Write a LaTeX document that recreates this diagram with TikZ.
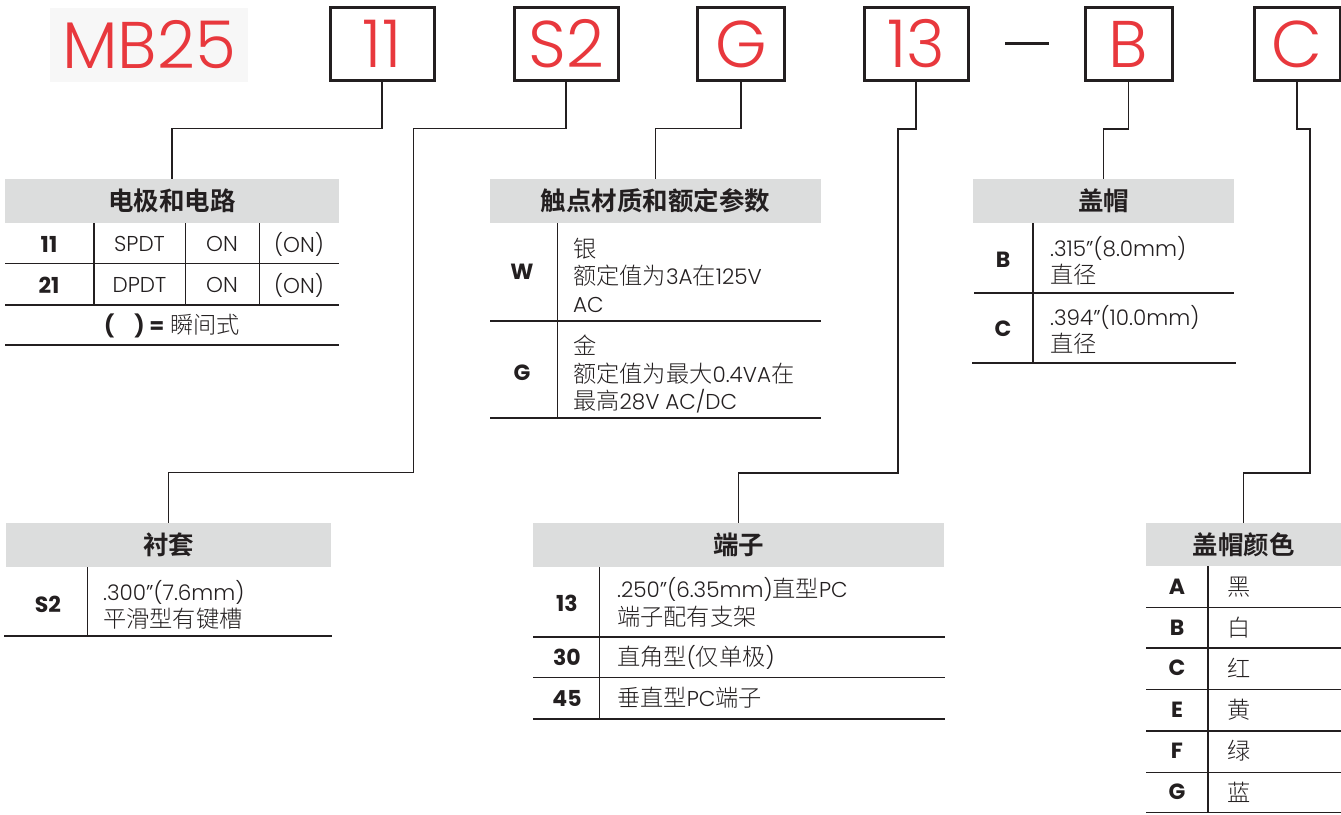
\documentclass[tikz,border=0pt]{standalone}
\usepackage{fontspec}
\setmainfont{Poppins}
\IfFontExistsTF{Poppins Light}{\newfontfamily\LatL{Poppins Light}}{\newfontfamily\LatL{Poppins}}
\IfFontExistsTF{Poppins Bold}{\newfontfamily\LatB{Poppins Bold}}{\newfontfamily\LatB[FakeBold=1.5]{Poppins}}
\IfFontExistsTF{Noto Sans CJK SC Light}{\newfontfamily\ZhL[Scale=1.08]{Noto Sans CJK SC Light}}{\newfontfamily\ZhL[Scale=1.08]{Noto Sans CJK SC}}
\IfFontExistsTF{Noto Sans CJK SC Bold}{\newfontfamily\ZhB{Noto Sans CJK SC Bold}}{\newfontfamily\ZhB[FakeBold=2]{Noto Sans CJK SC}}
\definecolor{ink}{HTML}{231F20}
\definecolor{mbred}{HTML}{E8383D}
\definecolor{hdrgray}{HTML}{DCDDDD}
\definecolor{mbbg}{HTML}{F7F7F7}
\tikzset{
  codebox/.style={draw=ink, line width=3pt, inner sep=0pt, minimum height=73pt, text=mbred, font=\LatL\fontsize{66}{66}\selectfont},
  hdr/.style={fill=hdrgray, inner sep=0pt, minimum height=44pt, font=\ZhB\fontsize{25.5}{25.5}\selectfont, text=ink},
  lab/.style={inner sep=0pt, font=\LatB\fontsize{22}{22}\selectfont, text=ink},
  cell/.style={inner sep=0pt, font=\LatL\fontsize{21.5}{21.5}\selectfont, text=ink},
  desc/.style={inner sep=0pt, anchor=west, align=left, font=\LatL\fontsize{21.5}{27.5}\selectfont, text=ink},
  conn/.style={draw=ink, line width=1.4pt},
  trule/.style={draw=ink, line width=1.6pt},
}
\begin{document}
\begin{tikzpicture}[x=1pt,y=-1pt]
\useasboundingbox (0,0) rectangle (1341,814);
% ---------- code line ----------
\node[fill=mbbg, minimum width=198pt, minimum height=74pt, inner sep=0pt, text=mbred, font=\LatL\fontsize{66}{66}\selectfont] (mb) at (149,45) {MB25};
\node[codebox, minimum width=104pt] (b11) at (382,44) {11};
\node[codebox, minimum width=104pt] (bS2) at (566,44) {S2};
\node[codebox, minimum width=87pt] (bG) at (741,44) {G};
\node[codebox, minimum width=104pt] (b13) at (916,44) {13};
\node[fill=ink, minimum width=44pt, minimum height=3pt, inner sep=0pt] (dash) at (1027,43) {};
\node[codebox, minimum width=87pt] (bB) at (1128.5,44) {B};
\node[codebox, minimum width=86pt] (bC) at (1297,44) {C};
% ---------- headers ----------
\node[hdr, minimum width=334pt] (h1) at (172,201) {电极和电路};
\node[hdr, minimum width=331pt] (h2) at (655.5,201) {触点材质和额定参数};
\node[hdr, minimum width=261pt] (h3) at (1103.5,201) {盖帽};
\node[hdr, minimum width=325pt] (h4) at (168.5,545) {衬套};
\node[hdr, minimum width=411pt] (h5) at (738.5,545) {端子};
\node[hdr, minimum width=195pt, minimum height=43pt] (h6) at (1243.5,544.5) {盖帽颜色};
% ---------- connectors ----------
\coordinate (ya) at (0,128.5);
\coordinate (yb) at (0,129);
\coordinate (s2a) at (413.5,128.5);
\coordinate (s2b) at (413.5,472.5);
\coordinate (t13a) at (898,129);
\coordinate (t13b) at (898,473);
\coordinate (cca) at (1310,129);
\coordinate (ccb) at (1310,473);
\draw[conn] (b11.south) |- (h1.north |- ya) -- (h1.north);
\draw[conn] (bG.south) |- (h2.north |- ya) -- (h2.north);
\draw[conn] (bB.south) |- (h3.north |- yb) -- (h3.north);
\draw[conn] (bS2.south) |- (s2a) |- (h4.north |- s2b) -- (h4.north);
\draw[conn] (b13.south) |- (t13a) |- (h5.north |- t13b) -- (h5.north);
\draw[conn] (bC.south) |- (cca) |- (h6.north |- ccb) -- (h6.north);
% ---------- table 1 ----------
\draw[trule] (5,263.5) -- (339,263.5);
\draw[trule] (5,305) -- (339,305);
\draw[trule] (5,345) -- (339,345);
\draw[trule] (93.7,223) -- (93.7,305);
\draw[trule] (185.3,223) -- (185.3,305);
\draw[trule] (259.3,223) -- (259.3,305);
\node[lab] (t1a) at (49,244) {11};
\node[cell] (t1b) at (139.5,244) {SPDT};
\node[cell] (t1c) at (222,244) {ON};
\node[cell] (t1d) at (299,244) {(ON)};
\node[lab] (t1e) at (49,285) {21};
\node[cell] (t1f) at (139.5,285) {DPDT};
\node[cell] (t1g) at (222,285) {ON};
\node[cell] (t1h) at (299,285) {(ON)};
\node[cell] (t1n) at (172,326) {{\LatB(\hspace{20pt}) =} {\ZhL 瞬间式}};
% ---------- table 2 ----------
\draw[trule] (490,321) -- (821,321);
\draw[trule] (490,418) -- (821,418);
\draw[trule] (557.3,223) -- (557.3,418);
\node[lab] (t2a) at (522,272) {W};
\node[lab] (t2b) at (522,373) {G};
\node[desc] (t2c) at (573,275) {{\ZhL 银}\\{\ZhL 额定值为}3A{\ZhL 在}125V\\AC};
\node[desc] (t2d) at (573,374) {{\ZhL 金}\\{\ZhL 额定值为最大}0.4VA{\ZhL 在}\\{\ZhL 最高}28V AC/DC};
% ---------- table 3 ----------
\draw[trule] (974,293) -- (1234,293);
\draw[trule] (972,363) -- (1236,363);
\draw[trule] (1032.7,223) -- (1032.7,363);
\node[lab] (t3a) at (1003,260) {B};
\node[lab] (t3b) at (1003,329) {C};
\node[desc] (t3c) at (1050,261) {.315”(8.0mm)\\{\ZhL 直径}};
\node[desc] (t3d) at (1050,330) {.394”(10.0mm)\\{\ZhL 直径}};
% ---------- table 4 ----------
\draw[trule] (4,636) -- (332,636);
\draw[trule] (87.3,567) -- (87.3,636);
\node[lab] (t4a) at (48,604) {S2};
\node[desc] (t4b) at (103,605) {.300”(7.6mm)\\{\ZhL 平滑型有键槽}};
% ---------- table 5 ----------
\draw[trule] (533,637) -- (945,637);
\draw[trule] (533,677.5) -- (945,677.5);
\draw[trule] (533,719) -- (945,719);
\draw[trule] (599.3,567) -- (599.3,719);
\node[lab] (t5a) at (567,603) {13};
\node[lab] (t5b) at (567,657) {30};
\node[lab] (t5c) at (567,698) {45};
\node[desc] (t5d) at (617,602.5) {.250”(6.35mm){\ZhL 直型}PC\\{\ZhL 端子配有支架}};
\node[desc] (t5e) at (617,657) {{\ZhL 直角型}({\ZhL 仅单极})};
\node[desc] (t5f) at (617,698) {{\ZhL 垂直型}PC{\ZhL 端子}};
% ---------- table 6 ----------
\draw[trule] (1208,566) -- (1208,813);
\foreach \yy in {607.5,648,689.5,731,772.5,812.5} {\draw[trule] (1146,\yy) -- (1341,\yy);}
\node[lab] (c1) at (1177,587) {A};
\node[lab] (c2) at (1177,628) {B};
\node[lab] (c3) at (1177,668) {C};
\node[lab] (c4) at (1177,710) {E};
\node[lab] (c5) at (1177,751) {F};
\node[lab] (c6) at (1177,792) {G};
\node[cell] (d1) at (1239,587) {\ZhL 黑};
\node[cell] (d2) at (1239,628) {\ZhL 白};
\node[cell] (d3) at (1239,668) {\ZhL 红};
\node[cell] (d4) at (1239,710) {\ZhL 黄};
\node[cell] (d5) at (1239,751) {\ZhL 绿};
\node[cell] (d6) at (1239,792) {\ZhL 蓝};
\end{tikzpicture}
\end{document}
